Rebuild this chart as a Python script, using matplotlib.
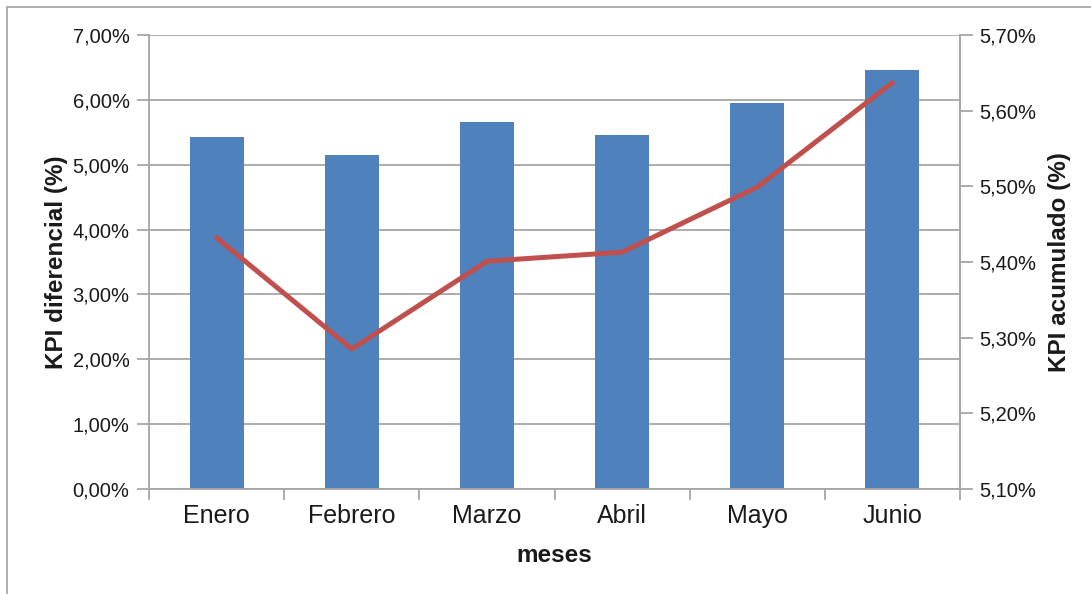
import numpy as np
import matplotlib
matplotlib.use("Agg")
import matplotlib.pyplot as plt
from matplotlib.ticker import FuncFormatter, FixedLocator
from matplotlib.patches import Rectangle

plt.rcParams['font.family'] = ['Liberation Sans', 'DejaVu Sans']

meses = ["Enero", "Febrero", "Marzo", "Abril", "Mayo", "Junio"]
kpi_diferencial = [5.43, 5.15, 5.66, 5.46, 5.95, 6.46]
kpi_acumulado = [5.432, 5.285, 5.401, 5.413, 5.499, 5.637]

BAR = "#4F81BD"
LINE = "#C0504D"
GRID = "#A6A6A6"
TXT = "#1a1a1a"


def pct(v, pos):
    return ("%.2f%%" % v).replace(".", ",")


fig = plt.figure(figsize=(10.91, 5.94), dpi=100)
# marco exterior del gráfico
fig.patches.append(Rectangle((7 / 1091, -0.1), 1.2, 1 - 7 / 594 + 0.1,
                             transform=fig.transFigure, fill=False,
                             edgecolor="#a0a0a0", linewidth=1.2))

ax = fig.add_axes([149 / 1091, 1 - 489 / 594, (960 - 149) / 1091, (489 - 35) / 594])
x = np.arange(len(meses))
ax.bar(x, kpi_diferencial, width=0.4, color=BAR, zorder=2)

ax.set_xlim(-0.5, len(meses) - 0.5)
ax.set_ylim(0, 7)
ax.set_yticks(np.arange(0, 7.01, 1))
ax.yaxis.set_major_formatter(FuncFormatter(pct))
ax.yaxis.grid(True, color=GRID, linewidth=1.3, zorder=0)
ax.set_axisbelow(True)

ax.set_xticks(x)
ax.set_xticklabels(meses, fontsize=18, color=TXT)
ax.xaxis.set_minor_locator(FixedLocator(np.arange(-0.5, len(meses), 1)))
ax.tick_params(axis="x", which="major", length=0, pad=11)
ax.tick_params(axis="x", which="minor", length=8, width=1.3, color=GRID, direction="out")
ax.tick_params(axis="y", length=9, width=1.3, color=GRID, labelsize=14.5, labelcolor=TXT, pad=5)

ax.spines["top"].set_visible(False)
for s in ["left", "bottom", "right"]:
    ax.spines[s].set_color(GRID)
    ax.spines[s].set_linewidth(1.3)

ax.set_xlabel("meses", fontsize=17.5, fontweight="bold", color=TXT, labelpad=11)
ax.set_ylabel("KPI diferencial (%)", fontsize=17.5, fontweight="bold", color=TXT, labelpad=3)

ax2 = ax.twinx()
ax2.plot(x, kpi_acumulado, color=LINE, linewidth=3.6, solid_capstyle="round", zorder=3)
ax2.set_ylim(5.10, 5.70)
ax2.set_yticks(np.arange(5.10, 5.701, 0.10))
ax2.yaxis.set_major_formatter(FuncFormatter(pct))
ax2.tick_params(axis="y", length=9, width=1.3, color=GRID, labelsize=14.5, labelcolor=TXT, pad=5)
for s in ["top", "left", "bottom"]:
    ax2.spines[s].set_visible(False)
ax2.spines["right"].set_color(GRID)
ax2.spines["right"].set_linewidth(1.3)
ax2.set_ylabel("KPI acumulado (%)", fontsize=17.5, fontweight="bold", color=TXT, labelpad=8)

fig.savefig("out.png", dpi=100)
